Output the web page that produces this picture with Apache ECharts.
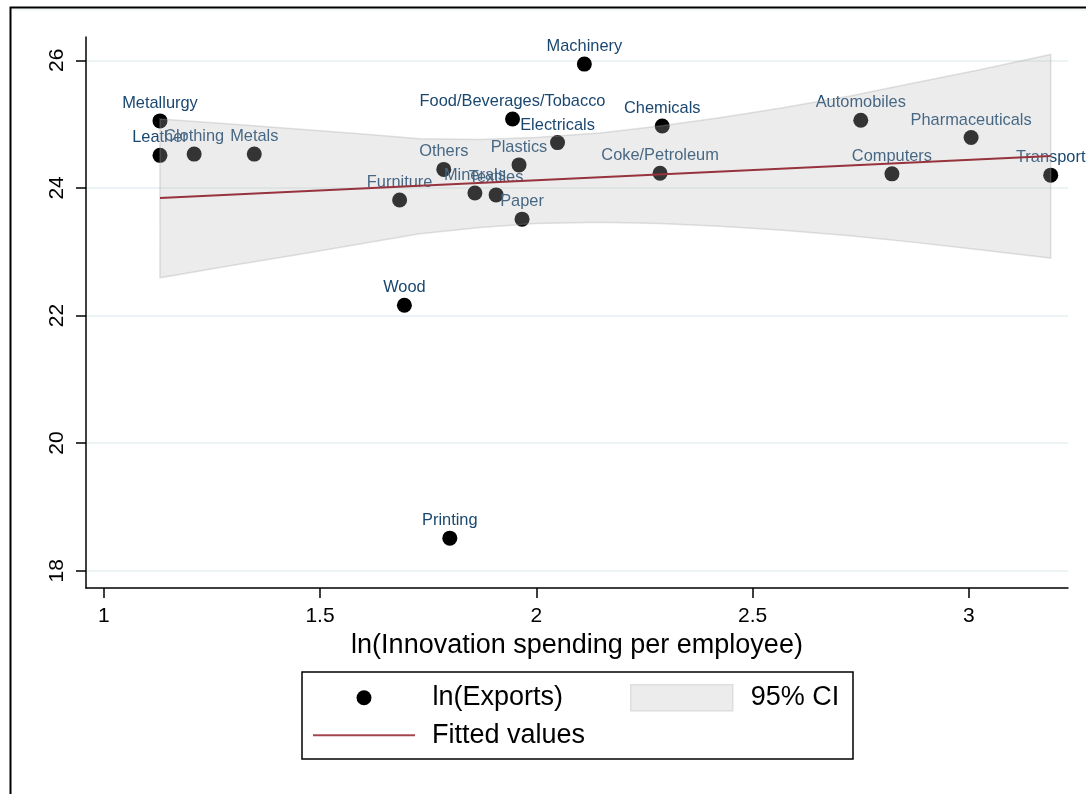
<!DOCTYPE html>
<html>
<head>
<meta charset="utf-8">
<script src="https://cdn.jsdelivr.net/npm/echarts@6/dist/echarts.min.js"></script>
<style>
  html, body { margin: 0; padding: 0; background: #ffffff; }
  #chart { width: 1086px; height: 794px; }
</style>
</head>
<body>
<div id="chart"></div>
<script>
// Industries: log innovation spending per employee vs log exports
const industries = [
  'Metallurgy', 'Leather', 'Clothing', 'Metals', 'Furniture', 'Wood', 'Others',
  'Printing', 'Minerals', 'Textiles', 'Food/Beverages/Tobacco', 'Plastics', 'Paper',
  'Electricals', 'Machinery', 'Coke/Petroleum', 'Chemicals', 'Automobiles',
  'Computers', 'Pharmaceuticals', 'Transport'
];
const lnInnovation = [
  1.130, 1.130, 1.209, 1.348, 1.684, 1.695, 1.786,
  1.800, 1.858, 1.907, 1.945, 1.960, 1.967,
  2.049, 2.111, 2.286, 2.291, 2.750,
  2.822, 3.005, 3.189
];
const lnExports = [
  25.05, 24.51, 24.53, 24.53, 23.81, 22.16, 24.29,
  18.51, 23.92, 23.89, 25.08, 24.36, 23.51,
  24.71, 25.94, 24.23, 24.97, 25.06,
  24.22, 24.79, 24.20
];

// Linear fit and its 95% confidence band
const fitX = [1.130, 3.189];
const fitY = [23.84, 24.50];
const ciX    = [1.130, 1.292, 1.454, 1.592, 1.731, 1.870, 1.999, 2.147, 2.286, 2.424, 2.563, 2.725, 2.870, 3.025, 3.189];
const ciHigh = [25.08, 25.00, 24.92, 24.85, 24.77, 24.76, 24.79, 24.86, 24.97, 25.10, 25.25, 25.44, 25.64, 25.85, 26.09];
const ciLow  = [22.59, 22.78, 22.96, 23.12, 23.28, 23.38, 23.44, 23.46, 23.44, 23.40, 23.34, 23.25, 23.15, 23.03, 22.90];

// Axis ticks
const xTicks = [1, 1.5, 2, 2.5, 3];
const yTicks = [18, 20, 22, 24, 26];

const FONT = '"Liberation Sans", Arial, Helvetica, sans-serif';
const LABEL_BLUE = '#1a476f';
const FIT_RED = '#96333d';

const chart = echarts.init(document.getElementById('chart'), null, { renderer: 'canvas' });

const scatterData = industries.map((name, i) => ({ name: name, value: [lnInnovation[i], lnExports[i]] }));
const bandData = ciX.map((x, i) => [x, ciLow[i], ciHigh[i]]);
const fitData = fitX.map((x, i) => [x, fitY[i]]);

function legendText(padLeft) {
  return { fontFamily: FONT, fontSize: 27, color: '#000', lineHeight: 27, padding: [0, 0, 0, padLeft] };
}

const option = {
  backgroundColor: '#ffffff',
  animation: false,
  grid: { left: 86, top: 37, right: 18, bottom: 206, containLabel: false },
  xAxis: {
    type: 'value',
    min: 0.959,
    max: 3.229,
    name: 'ln(Innovation spending per employee)',
    nameLocation: 'middle',
    nameGap: 36,
    nameTextStyle: { fontFamily: FONT, fontSize: 27, color: '#000' },
    axisLine: { show: true, onZero: false, lineStyle: { color: '#000', width: 1.5 } },
    axisTick: { show: true, length: 10, customValues: xTicks, lineStyle: { color: '#000', width: 1.5 } },
    axisLabel: { customValues: xTicks, margin: 18, fontFamily: FONT, fontSize: 21, color: '#000' },
    splitLine: { show: false }
  },
  yAxis: {
    type: 'value',
    min: 17.729,
    max: 26.365,
    axisLine: { show: true, onZero: false, lineStyle: { color: '#000', width: 1.5 } },
    axisTick: { show: true, length: 10, customValues: yTicks, lineStyle: { color: '#000', width: 1.5 } },
    axisLabel: { customValues: yTicks, rotate: 90, margin: 18, fontFamily: FONT, fontSize: 21, color: '#000' },
    splitLine: { show: true, lineStyle: { color: '#e6eff1', width: 1.5 } }
  },
  legend: [
    {
      left: 356.5, top: 684.2, padding: 0, itemWidth: 15, itemHeight: 15,
      data: [{ name: 'ln(Exports)', icon: 'circle', itemStyle: { color: '#000' } }],
      textStyle: legendText(56), selectedMode: false
    },
    {
      left: 313, top: 721.8, padding: 0, itemWidth: 102, itemHeight: 2,
      data: [{ name: 'Fitted values', icon: 'rect', itemStyle: { color: '#a2474f' } }],
      textStyle: legendText(12), selectedMode: false
    },
    {
      left: 630, top: 684, padding: 0, itemWidth: 102, itemHeight: 26,
      data: [{ name: '95% CI', icon: 'rect', itemStyle: { color: '#ececec', borderColor: '#dedede', borderWidth: 1.5 } }],
      textStyle: legendText(13), selectedMode: false
    }
  ],
  graphic: [
    // outer graph region frame
    { type: 'rect', silent: true, shape: { x: 10.5, y: 7.5, width: 1200, height: 1000 },
      style: { fill: 'none', stroke: '#000', lineWidth: 2 } },
    { type: 'line', silent: true, shape: { x1: 12, y1: 10, x2: 1086, y2: 10 },
      style: { stroke: '#e8eff1', lineWidth: 1 } },
    // legend frame
    { type: 'rect', silent: true, shape: { x: 302, y: 672, width: 551, height: 87 },
      style: { fill: 'none', stroke: '#000', lineWidth: 1.5 } }
  ],
  series: [
    {
      name: 'ln(Exports)',
      type: 'scatter',
      z: 2,
      symbol: 'circle',
      symbolSize: 15,
      itemStyle: { color: '#000', opacity: 1 },
      label: {
        show: true, position: 'top', distance: 2, formatter: '{b}',
        fontFamily: FONT, fontSize: 16.4, color: LABEL_BLUE
      },
      labelLayout: { hideOverlap: false },
      emphasis: { disabled: true },
      data: scatterData
    },
    {
      name: '95% CI',
      type: 'custom',
      z: 3,
      silent: true,
      data: bandData,
      encode: { x: 0, y: [1, 2] },
      itemStyle: { color: '#ececec' },
      renderItem: function (params, api) {
        if (params.dataIndex !== 0) return null;
        const upper = ciX.map((x, i) => api.coord([x, ciHigh[i]]));
        const lower = ciX.map((x, i) => api.coord([x, ciLow[i]])).reverse();
        return {
          type: 'polygon',
          shape: { points: upper.concat(lower) },
          style: { fill: 'rgba(185,185,185,0.28)', stroke: 'rgba(160,160,160,0.3)', lineWidth: 1.5 }
        };
      }
    },
    {
      name: 'Fitted values',
      type: 'line',
      z: 4,
      symbol: 'none',
      silent: true,
      lineStyle: { color: FIT_RED, width: 2 },
      itemStyle: { color: FIT_RED },
      data: fitData
    }
  ]
};

chart.setOption(option);
</script>
</body>
</html>
